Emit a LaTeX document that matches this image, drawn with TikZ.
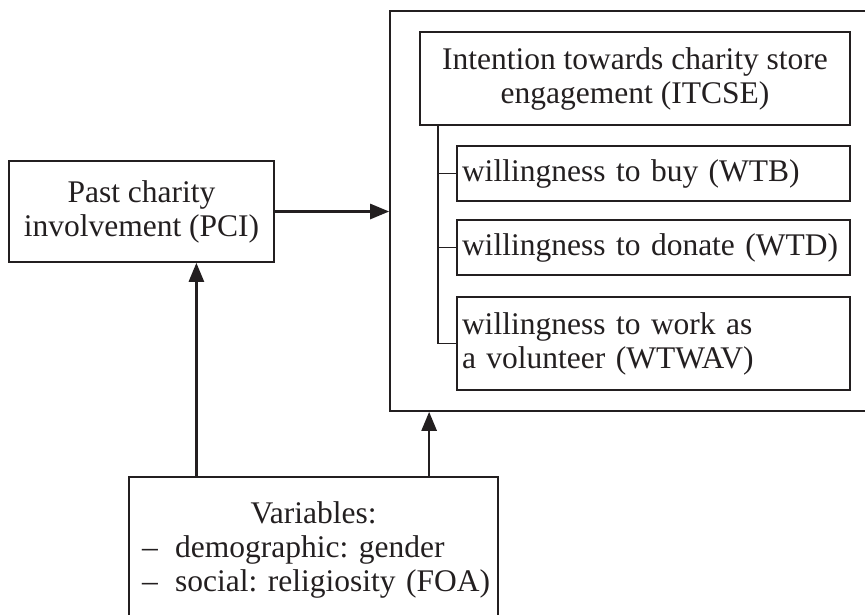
\documentclass[tikz,border=0pt]{standalone}
\usepackage{fontspec}
\setmainfont{Liberation Serif}
\usetikzlibrary{arrows.meta,calc}
\definecolor{ink}{RGB}{35,31,32}
\frenchspacing
\begin{document}
\begin{tikzpicture}[x=1pt,y=1pt,
  font=\fontsize{31.5}{34}\selectfont\frenchspacing,
  box/.style={draw=ink, line width=1.6pt, rectangle, inner sep=5pt, text=ink},
  arr/.style={draw=ink, line width=2.6pt, -{Triangle[length=19pt,width=15pt]}},
  thin/.style={draw=ink, line width=1.6pt}]
\useasboundingbox (0,0) rectangle (865,-614);
\clip (0,0) rectangle (865,-614);
\node[box, minimum width=510pt, minimum height=400pt] (outer) at (645,-211) {};
\node[box, minimum width=430pt, minimum height=93pt, align=center] (itcse) at (635,-78.5)
  {Intention towards charity store\\engagement (ITCSE)};
\node[box, text width=383pt, minimum height=55pt, align=left] (wtb) at (653.5,-173.5)
  {willingness to buy (WTB)};
\node[box, text width=383pt, minimum height=55pt, align=left] (wtd) at (653.5,-247.5)
  {willingness to donate (WTD)};
\node[box, text width=383pt, minimum height=93pt, align=left] (wtwav) at (653.5,-343.5)
  {willingness to work as\\a volunteer (WTWAV)};
\node[box, minimum width=265pt, minimum height=101pt, align=center] (pci) at (141.5,-211.5)
  {Past charity\\involvement (PCI)};
\node[box, text width=355pt, inner xsep=7pt, minimum height=146pt, align=left] (vars) at (313.5,-550)
  {\makebox[\linewidth][c]{Variables:}\\
   \hspace*{6pt}–\hspace{0.55em}demographic: gender\\
   \hspace*{6pt}–\hspace{0.55em}social: religiosity (FOA)};
\coordinate (bx) at ($(itcse.south west)+(19,0)$);
\draw[thin] (bx) |- (wtwav.west);
\draw[thin] (bx |- wtb.west) -- (wtb.west);
\draw[thin] (bx |- wtd.west) -- (wtd.west);
\draw[arr] (pci.east) -- (pci.east -| outer.west);
\coordinate (a1) at ($(vars.north west)!0.184!(vars.north east)$);
\coordinate (a2) at ($(vars.north west)!0.812!(vars.north east)$);
\draw[arr] (a1) -- (a1 |- pci.south);
\draw[arr] (a2) -- (a2 |- outer.south);
\end{tikzpicture}
\end{document}
